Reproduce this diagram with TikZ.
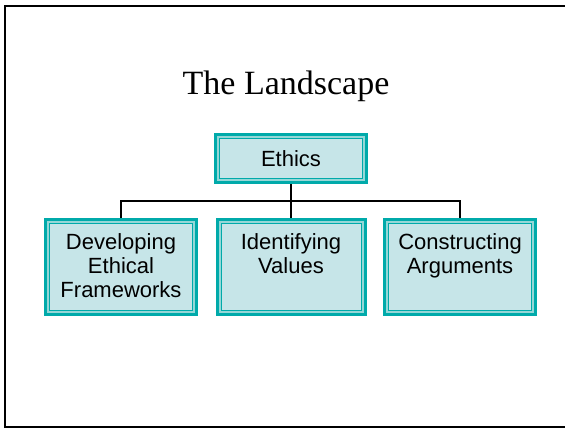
\documentclass[tikz,border=0pt]{standalone}
\usepackage{fontspec}
\setmainfont{Liberation Serif}
\newfontfamily\boxfont{Liberation Sans}
\definecolor{tealb}{RGB}{0,170,170}
\definecolor{boxfill}{RGB}{198,229,232}
\definecolor{gapfill}{RGB}{150,215,215}
\begin{document}
\begin{tikzpicture}[x=1pt,y=-1pt,
  tbox/.style={draw=tealb,line width=3pt,fill=gapfill,inner sep=0pt,
    minimum width=#1,
    path picture={\draw[tealb,line width=1pt,fill=boxfill]
      ([shift={(4pt,4pt)}]path picture bounding box.south west) rectangle
      ([shift={(-4pt,-4pt)}]path picture bounding box.north east);}},
  btext/.style={font=\boxfont\fontsize{22}{24}\selectfont,align=center,inner sep=0pt},
  conn/.style={draw=black,line width=1.2pt}]
\useasboundingbox (0,0) rectangle (565,429);
\draw[line width=2pt] (570,6) -- (5,6) -- (5,427) -- (570,427);
\node[font=\fontsize{34}{38}\selectfont] (title) at (286,86) {The Landscape};
\node[tbox=151pt,minimum height=48pt] (ethics) at (291,158.5) {};
\node[btext] (ethicst) at (ethics.center) {Ethics};
\node[tbox=151pt,minimum height=95pt] (dev) at (121,267) {};
\node[tbox=148pt,minimum height=95pt] (idv) at (291,267) {};
\node[tbox=151pt,minimum height=95pt] (con) at (460,267) {};
\node[btext,anchor=north] (devt) at ([yshift=-15pt]dev.north) {Developing\\Ethical\\Frameworks};
\node[btext,anchor=north] (idvt) at ([yshift=-15pt]idv.north) {Identifying\\Values};
\node[btext,anchor=north] (cont) at ([yshift=-15pt]con.north) {Constructing\\Arguments};
\coordinate (hl) at (121,201);
\coordinate (hr) at (460,201);
\draw[conn] (ethics.south) -- (idv.north);
\draw[conn] (dev.north) -- (hl) -- (hr) -- (con.north);
\end{tikzpicture}
\end{document}
